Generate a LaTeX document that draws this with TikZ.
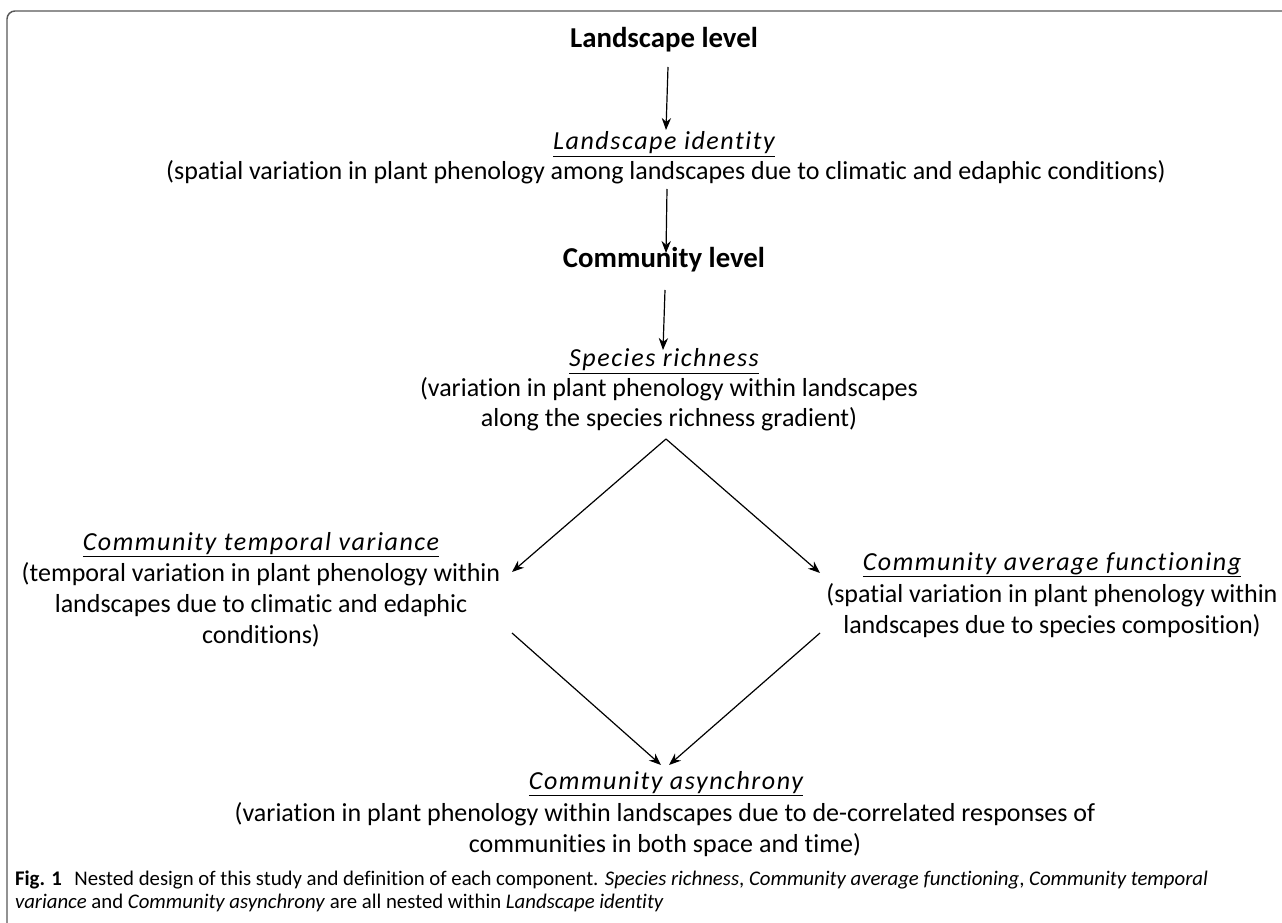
\documentclass[tikz,border=0pt]{standalone}
\usepackage{fontspec}
\setmainfont{Carlito}[Ligatures={NoCommon,NoRare},Contextuals=NoAlternate]
\newfontfamily\hdit[LetterSpace=6,Ligatures={NoCommon,NoRare},Contextuals=NoAlternate]{Carlito}
\usetikzlibrary{arrows.meta,calc}
\begin{document}
\begin{tikzpicture}[x=0.75pt,y=-0.75pt,
  every node/.style={inner sep=0pt, outer sep=0pt},
  lvl/.style={font=\fontsize{21.6pt}{24pt}\selectfont\bfseries, anchor=base},
  hd/.style={font=\hdit\itshape\fontsize{19.5pt}{23pt}\selectfont, anchor=base},
  desc/.style={font=\fontsize{19.5pt}{23pt}\selectfont, align=center, anchor=base},
  arr/.style={-{Stealth[length=9pt,width=7pt]}, line width=0.9pt},
  capt/.style={font=\fontsize{15.6pt}{17pt}\selectfont, anchor=base west},
  frame/.style={draw=black!65, line width=1.1pt, rounded corners=6pt}]
\useasboundingbox (0,0) rectangle (1282,923);
\fill[white] (0,0) rectangle (1282,923);
\draw[frame] (7,925) -- (7,11) -- (1284,11);

\node[lvl] (ll) at (664,48) {Landscape level};
\node[hd] (li) at (664,150) {\underline{Landscape identity}};
\node[desc] (lid) at (666,180) {(spatial variation in plant phenology among landscapes due to climatic and edaphic conditions)};
\node[lvl] (cl) at (664,268) {Community level};
\node[hd] (sr) at (664,367) {\underline{Species richness}};
\node[desc] (srd) at (669,427) {(variation in plant phenology within landscapes\\along the species richness gradient)};
\node[hd] (ctv) at (261,550) {\underline{Community temporal variance}};
\node[desc] (ctvd) at (261,643) {(temporal variation in plant phenology within\\landscapes due to climatic and edaphic\\conditions)};
\node[hd] (caf) at (1052,570) {\underline{Community average functioning}};
\node[desc] (cafd) at (1052,633) {(spatial variation in plant phenology within\\landscapes due to species composition)};
\node[hd] (ca) at (666,789) {\underline{Community asynchrony}};
\node[desc] (cad) at (665,852) {(variation in plant phenology within landscapes due to de-correlated responses of\\communities in both space and time)};

\node[capt] (fig1) at (15,885) {\textbf{Fig. 1}\hspace{0.6em}Nested design of this study and definition of each component. \textit{Species richness}, \textit{Community average functioning}, \textit{Community temporal}};
\node[capt] (fig2) at (15,908) {\textit{variance} and \textit{Community asynchrony} are all nested within \textit{Landscape identity}};

\coordinate (apex) at ($(srd.base)+(-3,12)$);
\draw[arr] ($(ll.base)+(4,19)$) -- ($(li.base)+(2,-20)$);
\draw[arr] ($(lid.base)+(1,9)$) -- ($(cl.base)+(2,-15)$);
\draw[arr] ($(cl.base)+(1,22)$) -- ($(sr.base)+(-1,-17)$);
\draw[arr] (apex) -- ($(ctvd.base)+(251,-71)$);
\draw[arr] (apex) -- ($(caf.base)+(-232,3)$);
\draw[arr] ($(ctvd.base)+(251,-10)$) -- ($(ca.base)+(-5,-24)$);
\draw[arr] ($(cafd.base)+(-232,0)$) -- ($(ca.base)+(3,-24)$);
\end{tikzpicture}
\end{document}
